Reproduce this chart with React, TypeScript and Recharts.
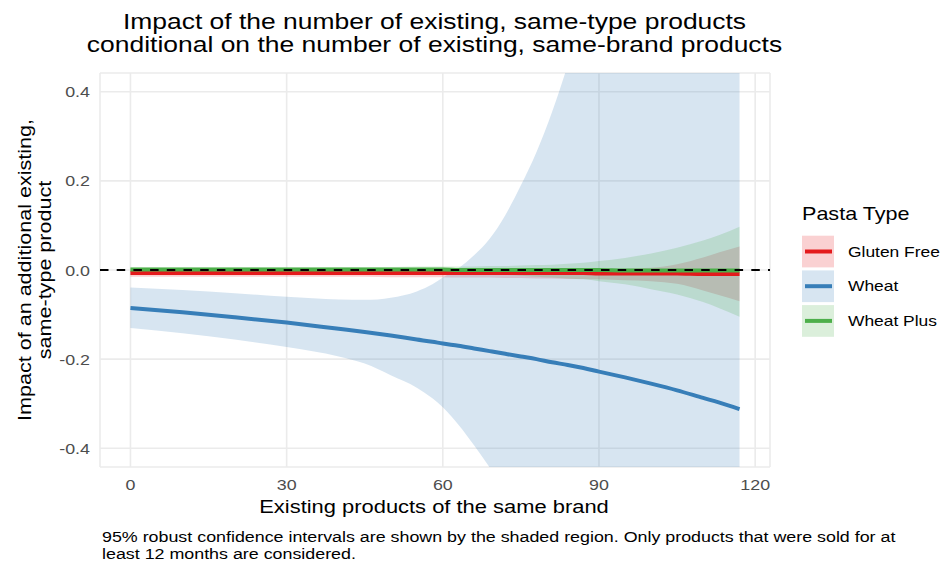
import React from "react";
import {
  Area,
  CartesianGrid,
  ComposedChart,
  Line,
  ReferenceLine,
  XAxis,
  YAxis,
} from "recharts";

// existing products of the same brand
const brandProducts = [
  0, 10, 20, 30, 40, 45, 50, 55, 58, 60, 63, 66, 69, 72, 75, 78, 81, 84, 87, 90,
  95, 100, 105, 110, 113, 117,
];

const glutenFreeFit = [
  -0.007, -0.007, -0.007, -0.007, -0.007, -0.007, -0.007, -0.007, -0.007,
  -0.007, -0.007, -0.007, -0.007, -0.007, -0.007, -0.007, -0.007, -0.007,
  -0.007, -0.008, -0.008, -0.008, -0.008, -0.009, -0.009, -0.009,
];
const glutenFreeLow = [
  -0.015, -0.015, -0.015, -0.015, -0.015, -0.015, -0.016, -0.016, -0.016,
  -0.016, -0.017, -0.017, -0.017, -0.018, -0.018, -0.019, -0.019, -0.02,
  -0.02, -0.021, -0.023, -0.025, -0.031, -0.046, -0.056, -0.07,
];
const glutenFreeHigh = [
  0.001, 0.001, 0.001, 0.001, 0.001, 0.001, 0.001, 0.001, 0.001, 0.001,
  0.001, 0.001, 0.001, 0.002, 0.002, 0.002, 0.002, 0.002, 0.002, 0.002,
  0.003, 0.005, 0.013, 0.028, 0.039, 0.053,
];

const wheatFit = [
  -0.085, -0.095, -0.106, -0.118, -0.132, -0.139, -0.147, -0.156, -0.161,
  -0.165, -0.17, -0.176, -0.182, -0.188, -0.194, -0.2, -0.207, -0.213, -0.22,
  -0.228, -0.241, -0.255, -0.27, -0.287, -0.297, -0.312,
];
const wheatLow = [
  -0.13, -0.142, -0.156, -0.173, -0.194, -0.21, -0.236, -0.264, -0.288,
  -0.308, -0.347, -0.393, -0.443, -0.496, -0.56, -0.64, -0.74, -0.86, -1.0,
  -1.16, -1.45, -1.78, -2.15, -2.56, -2.82, -3.2,
];
const wheatHigh = [
  -0.039, -0.045, -0.052, -0.06, -0.066, -0.067, -0.062, -0.048, -0.032,
  -0.017, 0.004, 0.033, 0.07, 0.123, 0.19, 0.265, 0.355, 0.46, 0.575, 0.7,
  0.93, 1.2, 1.52, 1.88, 2.12, 2.45,
];

const wheatPlusFit = [
  0.001, 0.001, 0.001, 0.001, 0.001, 0.001, 0.001, 0.001, 0.001, 0.001, 0,
  0, 0, 0, 0, 0, 0, 0, 0, 0, -0.001, -0.001, -0.001, -0.001, -0.001, -0.001,
];
const wheatPlusLow = [
  -0.004, -0.004, -0.004, -0.005, -0.005, -0.006, -0.006, -0.007, -0.007,
  -0.008, -0.008, -0.009, -0.01, -0.011, -0.013, -0.015, -0.017, -0.019,
  -0.021, -0.025, -0.032, -0.043, -0.055, -0.072, -0.085, -0.105,
];
const wheatPlusHigh = [
  0.006, 0.006, 0.006, 0.006, 0.007, 0.007, 0.007, 0.008, 0.008, 0.008,
  0.008, 0.008, 0.009, 0.009, 0.01, 0.011, 0.012, 0.014, 0.016, 0.02, 0.027,
  0.037, 0.05, 0.066, 0.078, 0.097,
];

const seriesNames = ["Gluten Free", "Wheat", "Wheat Plus"];
const seriesColors = ["#E41A1C", "#377EB8", "#4DAF4A"];
const xTicks = [0, 30, 60, 90, 120];
const yTicks = [-0.4, -0.2, 0, 0.2, 0.4];

const rows = brandProducts.map((x, i) => ({
  x,
  gf: glutenFreeFit[i],
  gfBand: [glutenFreeLow[i], glutenFreeHigh[i]],
  wheat: wheatFit[i],
  wheatBand: [wheatLow[i], wheatHigh[i]],
  plus: wheatPlusFit[i],
  plusBand: [wheatPlusLow[i], wheatPlusHigh[i]],
}));

const FONT = "'Liberation Sans', Arial, sans-serif";
// the text in this figure runs a little wider than plain Arial
const SX = 1.16;

const XTick = ({ x, y, payload }: any) => (
  <text
    transform={`translate(${x},${y + 11}) scale(${SX},1)`}
    textAnchor="middle"
    fill="#4D4D4D"
    fontSize={15.4}
    fontFamily={FONT}
  >
    {payload.value}
  </text>
);

const YTick = ({ x, y, payload }: any) => (
  <text
    transform={`translate(${x},${y + 5.5}) scale(${SX},1)`}
    textAnchor="end"
    fill="#4D4D4D"
    fontSize={15.4}
    fontFamily={FONT}
  >
    {Number(payload.value).toFixed(1)}
  </text>
);

const Txt = ({ x, y, size, anchor = "start", rotate = 0, children }: any) => (
  <text
    transform={`translate(${x},${y}) rotate(${rotate}) scale(${SX},1)`}
    textAnchor={anchor}
    fontSize={size}
    fontFamily={FONT}
    fill="#000"
  >
    {children}
  </text>
);

const Annotations = () => (
  <svg
    width={943}
    height={567}
    style={{ position: "absolute", left: 0, top: 0, pointerEvents: "none" }}
  >
    <Txt x={434.5} y={28.5} size={22.8} anchor="middle">
      Impact of the number of existing, same-type products
    </Txt>
    <Txt x={434.5} y={51.5} size={22.8} anchor="middle">
      conditional on the number of existing, same-brand products
    </Txt>
    <Txt x={434} y={513} size={18.9} anchor="middle">
      Existing products of the same brand
    </Txt>
    <Txt x={31} y={270} size={18.6} anchor="middle" rotate={-90}>
      Impact of an additional existing,
    </Txt>
    <Txt x={50.5} y={270} size={18.6} anchor="middle" rotate={-90}>
      same-type product
    </Txt>
    <Txt x={102} y={541.7} size={15.4}>
      95% robust confidence intervals are shown by the shaded region. Only
      products that were sold for at
    </Txt>
    <Txt x={102} y={559.3} size={15.4}>
      least 12 months are considered.
    </Txt>

    {/* legend */}
    <Txt x={802} y={220} size={18.6}>
      Pasta Type
    </Txt>
    {seriesNames.map((name, i) => {
      const top = 235.7 + i * 34.7;
      return (
        <g key={name}>
          <rect
            x={802}
            y={top}
            width={32}
            height={31.7}
            fill={seriesColors[i]}
            fillOpacity={0.2}
          />
          <line
            x1={805}
            x2={832}
            y1={top + 15.8}
            y2={top + 15.8}
            stroke={seriesColors[i]}
            strokeWidth={4}
          />
          <Txt x={848} y={top + 21} size={15}>
            {name}
          </Txt>
        </g>
      );
    })}
  </svg>
);

export default function App() {
  return (
    <div
      style={{
        position: "absolute",
        left: 0,
        top: 0,
        width: 943,
        height: 567,
        background: "#fff",
      }}
    >
      <ComposedChart
        width={943}
        height={567}
        data={rows}
        margin={{ top: 73, right: 173, bottom: 70, left: 60 }}
      >
        <CartesianGrid stroke="#EBEBEB" strokeWidth={1.6} />
        <XAxis
          dataKey="x"
          type="number"
          domain={[-5.85, 122.85]}
          ticks={xTicks}
          allowDataOverflow
          axisLine={false}
          tickLine={false}
          tickSize={0}
          tickMargin={12}
          height={30}
          tick={<XTick />}
        />
        <YAxis
          type="number"
          domain={[-0.442, 0.442]}
          ticks={yTicks}
          allowDataOverflow
          axisLine={false}
          tickLine={false}
          tickSize={0}
          tickMargin={10}
          width={40}
          tick={<YTick />}
        />
        <Area
          dataKey="gfBand"
          type="monotone"
          stroke="none"
          fill={seriesColors[0]}
          fillOpacity={0.2}
          isAnimationActive={false}
        />
        <Area
          dataKey="wheatBand"
          type="monotone"
          stroke="none"
          fill={seriesColors[1]}
          fillOpacity={0.2}
          isAnimationActive={false}
        />
        <Area
          dataKey="plusBand"
          type="monotone"
          stroke="none"
          fill={seriesColors[2]}
          fillOpacity={0.2}
          isAnimationActive={false}
        />
        <Line
          dataKey="gf"
          type="monotone"
          stroke={seriesColors[0]}
          strokeWidth={4}
          dot={false}
          isAnimationActive={false}
        />
        <Line
          dataKey="wheat"
          type="monotone"
          stroke={seriesColors[1]}
          strokeWidth={4}
          dot={false}
          isAnimationActive={false}
        />
        <Line
          dataKey="plus"
          type="monotone"
          stroke={seriesColors[2]}
          strokeWidth={4}
          dot={false}
          isAnimationActive={false}
        />
        <ReferenceLine
          y={0}
          stroke="#000"
          strokeWidth={2.2}
          strokeDasharray="8.5 8.2"
        />
      </ComposedChart>
      <Annotations />
    </div>
  );
}
